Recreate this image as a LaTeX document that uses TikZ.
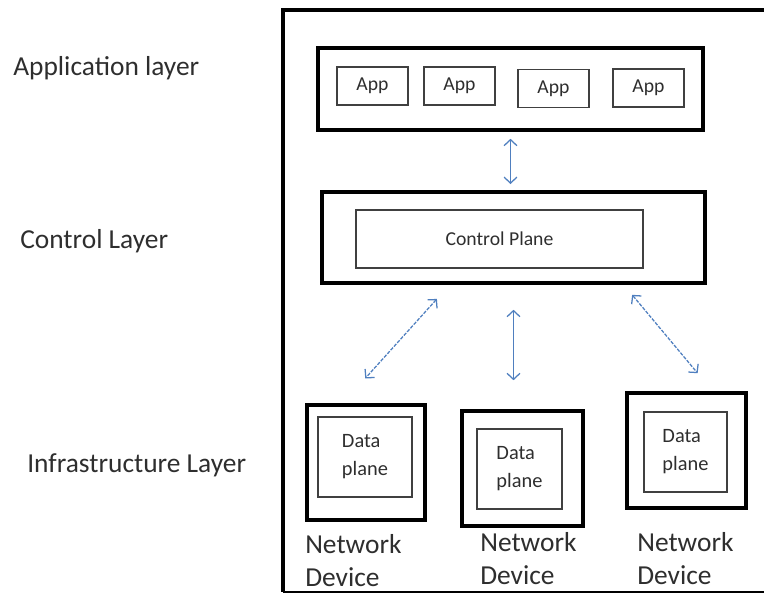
\documentclass[tikz,border=0pt]{standalone}
\usepackage{fontspec}
\setmainfont{Carlito}
\usetikzlibrary{arrows.meta}
\definecolor{sdnink}{HTML}{2E2E2E}
\definecolor{sdnblue}{HTML}{4F7FBF}

\begin{document}
\begin{tikzpicture}[x=0.025cm,y=-0.025cm,
    layertext/.style={anchor=west,inner sep=0pt,text=sdnink,
      font=\fontsize{19.5}{23}\selectfont},
    thickbox/.style={draw=black,line width=2.8pt,inner sep=0pt},
    thinbox/.style={draw=black!75,line width=.9pt,text=sdnink,inner sep=0pt},
    appbox/.style={thinbox,minimum width=1.775cm,minimum height=.95cm,
      font=\fontsize{14}{16}\selectfont},
    dpbox/.style={thinbox,minimum height=2cm,align=left,
      font=\fontsize{14.5}{20}\selectfont},
    devtext/.style={anchor=west,inner sep=0pt,align=left,text=sdnink,
      font=\fontsize{19.5}{23.4}\selectfont},
    link/.style={sdnblue,line width=.9pt,
      {Straight Barb[length=1.5mm,width=3.2mm]}-{Straight Barb[length=1.5mm,width=3.2mm]}},
    dashlink/.style={link,dash pattern=on 2.5pt off 1pt}]
    \useasboundingbox (0,0) rectangle (764,594);
    % outer frame, open to the right
    \draw[line width=2.2pt] (766,10) -- (283,10) -- (283,592);
    \draw[line width=1.2pt] (283,592) -- (766,592);
    % layer names
    \node[layertext] (lapp) at (13,68) {Application layer};
    \node[layertext] (lctrl) at (20,241) {Control Layer};
    \node[layertext] (linfra) at (27,465) {Infrastructure Layer};
    % application layer
    \node[thickbox,minimum width=9.625cm,minimum height=2.05cm] (appbar) at (510.5,89) {};
    \node[appbox] (app1) at (372.5,86) {App};
    \node[appbox] (app2) at (459.5,86) {App};
    \node[appbox] (app3) at (553.5,88.5) {App};
    \node[appbox] (app4) at (648.5,88) {App};
    % control layer
    \node[thickbox,minimum width=9.575cm,minimum height=2.275cm] (ctrl) at (513.5,237.5) {};
    \node[thinbox,minimum width=7.175cm,minimum height=1.45cm,
      font=\fontsize{14}{16}\selectfont] (plane) at (499.5,239) {Control Plane};
    % infrastructure layer
    \node[thickbox,minimum width=2.95cm,minimum height=2.875cm] (dev1) at (366,462.5) {};
    \node[thickbox,minimum width=3.025cm,minimum height=2.875cm] (dev2) at (522.5,468.5) {};
    \node[thickbox,minimum width=2.975cm,minimum height=2.875cm] (dev3) at (686.5,450.5) {};
    \node[dpbox,minimum width=2.35cm] (dp1) at (365,457) {Data\\plane};
    \node[dpbox,minimum width=2.125cm] (dp2) at (519.5,469) {Data\\plane};
    \node[dpbox,minimum width=2.075cm] (dp3) at (685.5,452) {Data\\plane};
    \node[devtext] (nd1) at (305,561) {Network\\Device};
    \node[devtext] (nd2) at (480,559) {Network\\Device};
    \node[devtext] (nd3) at (637,559) {Network\\Device};
    % links between layers
    \draw[link,shorten <=.17cm,shorten >=.15cm] (appbar.south) -- (appbar.south |- ctrl.north);
    \draw[link,shorten <=.62cm,shorten >=.72cm] (ctrl.south) -- (ctrl.south |- dev2.north);
    \draw[dashlink,shorten <=.47cm,shorten >=.83cm]
      ([xshift=-1.6cm]ctrl.south) -- ([xshift=-.575cm]dev1.north);
    \draw[dashlink,shorten <=.32cm,shorten >=.58cm]
      ([xshift=2.76cm]ctrl.south) -- ([xshift=.65cm]dev3.north);
  \end{tikzpicture}
\end{document}
